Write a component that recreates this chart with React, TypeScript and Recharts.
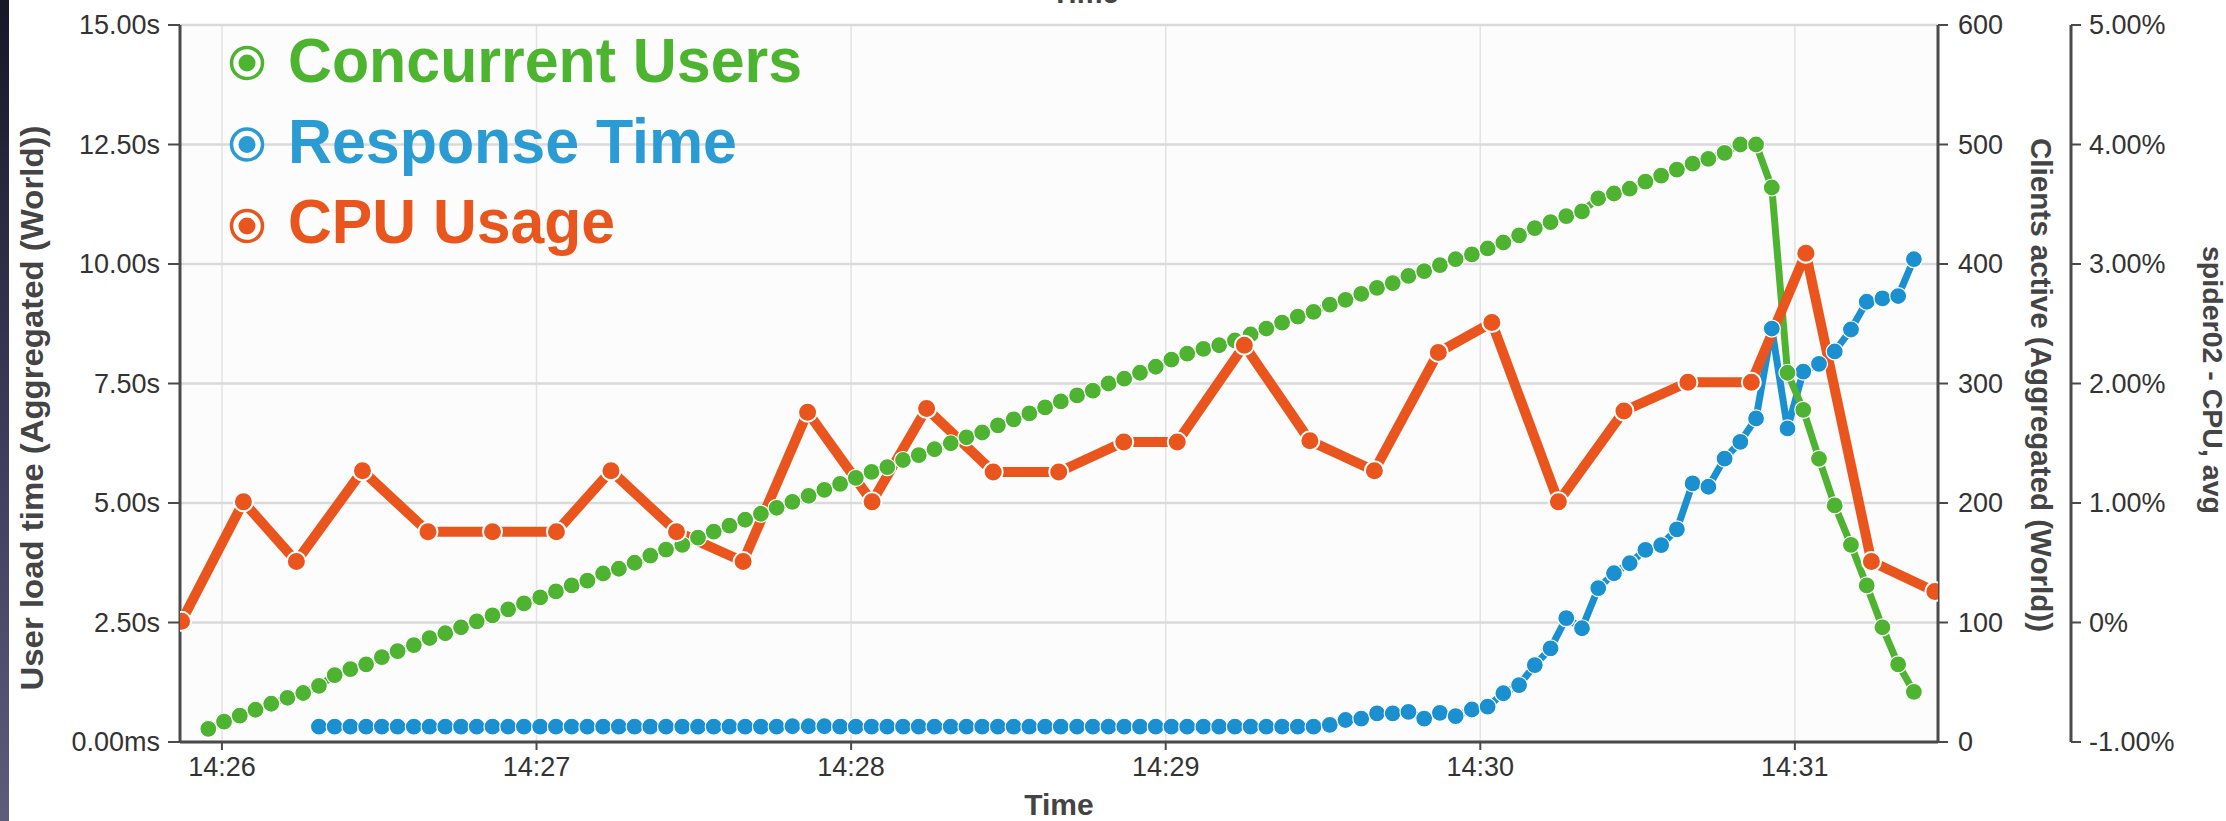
import React from "react";
import { LineChart, Line, XAxis, YAxis, CartesianGrid, Legend } from "recharts";

const FONT = "'Liberation Sans', Arial, Helvetica, sans-serif";
const GREEN = "#4fb332";
const BLUE = "#1a90d0";
const ORANGE = "#e9551d";

// seconds after 14:26:00, one sample every ~3 s (clients + response time)
const sampleSeconds = [
  -2.6, 0.4, 3.4, 6.4, 9.4, 12.5, 15.5, 18.5, 21.5, 24.5,
  27.5, 30.5, 33.5, 36.6, 39.6, 42.6, 45.6, 48.6, 51.6, 54.6,
  57.6, 60.7, 63.7, 66.7, 69.7, 72.7, 75.7, 78.7, 81.7, 84.7,
  87.8, 90.8, 93.8, 96.8, 99.8, 102.8, 105.8, 108.8, 111.9, 114.9,
  117.9, 120.9, 123.9, 126.9, 129.9, 132.9, 135.9, 139.0, 142.0, 145.0,
  148.0, 151.0, 154.0, 157.0, 160.0, 163.1, 166.1, 169.1, 172.1, 175.1,
  178.1, 181.1, 184.1, 187.2, 190.2, 193.2, 196.2, 199.2, 202.2, 205.2,
  208.2, 211.3, 214.3, 217.3, 220.3, 223.3, 226.3, 229.3, 232.3, 235.3,
  238.4, 241.4, 244.4, 247.4, 250.4, 253.4, 256.4, 259.4, 262.5, 265.5,
  268.5, 271.5, 274.5, 277.5, 280.5, 283.5, 286.6, 289.6, 292.6, 295.6,
  298.6, 301.6, 304.6, 307.6, 310.7, 313.7, 316.7, 319.7, 322.7,
];

// Clients active (Aggregated (World))
const concurrentUsers = [
  11, 17, 22, 27, 32, 37, 41, 47, 56, 61,
  65, 71, 76, 81, 87, 91, 96, 101, 106, 111,
  116, 121, 126, 131, 135, 141, 145, 150, 156, 161,
  165, 171, 176, 181, 186, 191, 196, 201, 206, 211,
  216, 221, 226, 230, 236, 240, 245, 250, 255, 259,
  265, 270, 275, 280, 285, 290, 294, 300, 304, 309,
  314, 320, 325, 329, 332, 336, 341, 346, 351, 356,
  360, 366, 370, 375, 380, 384, 390, 394, 399, 404,
  408, 413, 418, 424, 430, 435, 440, 444, 455, 459,
  463, 469, 474, 479, 484, 488, 493, 500, 500, 464,
  309, 278, 237, 198, 165, 131, 96, 65, 42,
];

// User load time (Aggregated (World)), seconds
const responseTime = [
  null, null, null, null, null, null, null,
  0.32, 0.32, 0.32, 0.32, 0.32, 0.32, 0.32, 0.32,
  0.32, 0.32, 0.32, 0.32, 0.32, 0.32, 0.32, 0.32,
  0.32, 0.32, 0.32, 0.32, 0.32, 0.32, 0.32, 0.32,
  0.32, 0.32, 0.32, 0.32, 0.32, 0.32, 0.33, 0.33,
  0.33, 0.32, 0.32, 0.32, 0.32, 0.32, 0.32, 0.32,
  0.32, 0.32, 0.32, 0.32, 0.32, 0.32, 0.32, 0.32,
  0.32, 0.32, 0.32, 0.32, 0.32, 0.32, 0.32, 0.32,
  0.32, 0.32, 0.32, 0.32, 0.32, 0.32, 0.32, 0.32,
  0.36, 0.46, 0.49, 0.6, 0.6, 0.63, 0.49, 0.61, 0.54, 0.68,
  0.74, 1.02, 1.19, 1.61, 1.96, 2.59, 2.38, 3.22, 3.53, 3.74,
  4.02, 4.12, 4.45, 5.41, 5.34, 5.93, 6.28, 6.77, 8.65, 6.56,
  7.75, 7.91, 8.17, 8.63, 9.21, 9.28, 9.33, 10.1,
];

// spider02 - CPU, avg (sampled every ~12 s)
const cpuSeconds = [
  -7.7, 4.1, 14.2, 26.8, 39.3, 51.6, 63.8, 74.2, 86.7, 99.4,
  111.7, 124.0, 134.4, 147.1, 159.6, 172.0, 182.2, 195.0, 207.5, 219.8,
  232.0, 242.2, 254.9, 267.4, 279.6, 291.7, 302.1, 314.6, 326.7,
];
const cpuUsage = [
  0.01, 1.01, 0.51, 1.27, 0.76, 0.76, 0.76, 1.27, 0.76, 0.51,
  1.76, 1.01, 1.79, 1.26, 1.26, 1.51, 1.51, 2.32, 1.52, 1.27,
  2.26, 2.51, 1.01, 1.77, 2.01, 2.01, 3.09, 0.51, 0.26,
];

const timeTicks = [0, 60, 120, 180, 240, 300];
const timeTickLabels = ["14:26", "14:27", "14:28", "14:29", "14:30", "14:31"];
const loadTicks = [0, 2.5, 5, 7.5, 10, 12.5, 15];
const loadTickLabels = ["0.00ms", "2.50s", "5.00s", "7.50s", "10.00s", "12.50s", "15.00s"];
const clientTicks = [0, 100, 200, 300, 400, 500, 600];
const clientTickLabels = ["0", "100", "200", "300", "400", "500", "600"];
const cpuTicks = [-1, 0, 1, 2, 3, 4, 5];
const cpuTickLabels = ["-1.00%", "0%", "1.00%", "2.00%", "3.00%", "4.00%", "5.00%"];

const legendNames = ["Concurrent Users", "Response Time", "CPU Usage"];
const legendColors = ["#4cb42f", "#2a9bd3", "#e9561d"];
const legendWidths = [514, 449, 327];

const samples = sampleSeconds.map((t, i) => ({ t, users: concurrentUsers[i], resp: responseTime[i] }));
const cpuData = cpuSeconds.map((t, i) => ({ t, cpu: cpuUsage[i] }));

function makeTick(ticks: number[], labels: string[], anchor: "start" | "middle" | "end", dy: string) {
  return (props: any) => {
    const i = ticks.indexOf(props.payload.value);
    return (
      <text x={props.x} y={props.y} dy={dy} textAnchor={anchor} fill="#333" fontSize={27} fontFamily={FONT}>
        {labels[i]}
      </text>
    );
  };
}

// legend box sits at left 220 / top 10 of the chart
const renderLegend = () => (
  <svg width={720} height={270} style={{ display: "block" }}>
    {legendNames.map((name, i) => (
      <g key={name}>
        <circle cx={27} cy={53 + i * 81.5} r={15.5} fill="#fff" stroke={legendColors[i]} strokeWidth={3.5} />
        <circle cx={27} cy={53 + i * 81.5} r={8.5} fill={legendColors[i]} />
        <text
          x={68}
          y={72 + i * 80.5}
          fill={legendColors[i]}
          fontSize={63}
          fontWeight="bold"
          fontFamily={FONT}
          textLength={legendWidths[i]}
          lengthAdjust="spacingAndGlyphs"
        >
          {name}
        </text>
      </g>
    ))}
  </svg>
);

const axisLine = { stroke: "#4a4a4a", strokeWidth: 3 };
const tickLine = { stroke: "#4a4a4a", strokeWidth: 2 };

export default function App() {
  return (
    <div style={{ position: "absolute", left: 0, top: 0, width: 2226, height: 821, background: "#fff", overflow: "hidden" }}>
      <LineChart width={2226} height={821} data={samples} margin={{ top: 25, right: 55, bottom: 39, left: 80 }}>
        <CartesianGrid horizontal={false} stroke="#e3e3e3" strokeWidth={1.5} fill="#fcfcfc" />
        <CartesianGrid vertical={false} stroke="#dadada" strokeWidth={2.5} />
        <XAxis
          dataKey="t"
          type="number"
          domain={[-8, 327.3]}
          ticks={timeTicks}
          interval={0}
          allowDataOverflow
          height={40}
          tickSize={8}
          tickMargin={2}
          axisLine={axisLine}
          tickLine={tickLine}
          tick={makeTick(timeTicks, timeTickLabels, "middle", "0.9em")}
        />
        <YAxis
          domain={[0, 15]}
          ticks={loadTicks}
          interval={0}
          width={100}
          tickSize={12}
          tickMargin={8}
          axisLine={axisLine}
          tickLine={tickLine}
          tick={makeTick(loadTicks, loadTickLabels, "end", "0.35em")}
        />
        <YAxis
          yAxisId="clients"
          orientation="right"
          domain={[0, 600]}
          ticks={clientTicks}
          interval={0}
          width={133}
          tickSize={10}
          tickMargin={10}
          axisLine={axisLine}
          tickLine={tickLine}
          tick={makeTick(clientTicks, clientTickLabels, "start", "0.35em")}
        />
        <YAxis
          yAxisId="cpu"
          orientation="right"
          domain={[-1, 5]}
          ticks={cpuTicks}
          interval={0}
          width={100}
          tickSize={10}
          tickMargin={8}
          axisLine={axisLine}
          tickLine={tickLine}
          tick={makeTick(cpuTicks, cpuTickLabels, "start", "0.35em")}
        />
        <Legend
          layout="vertical"
          align="center"
          verticalAlign="middle"
          content={renderLegend}
          wrapperStyle={{ left: 220, top: 10, width: 720, height: 270 }}
        />
        <Line
          name="Response Time"
          dataKey="resp"
          stroke={BLUE}
          strokeWidth={7}
          strokeLinejoin="round"
          dot={{ r: 8.5, fill: BLUE, stroke: "#fff", strokeWidth: 1.2 }}
          activeDot={false}
          isAnimationActive={false}
        />
        <Line
          name="Concurrent Users"
          yAxisId="clients"
          dataKey="users"
          stroke={GREEN}
          strokeWidth={7}
          strokeLinejoin="round"
          dot={{ r: 8.5, fill: GREEN, stroke: "#fff", strokeWidth: 1.2 }}
          activeDot={false}
          isAnimationActive={false}
        />
        <Line
          name="CPU Usage"
          yAxisId="cpu"
          data={cpuData}
          dataKey="cpu"
          stroke={ORANGE}
          strokeWidth={10}
          strokeLinejoin="round"
          dot={{ r: 9.5, fill: ORANGE, stroke: "#fff", strokeWidth: 2 }}
          activeDot={false}
          isAnimationActive={false}
        />
        <text x={1085} y={3} textAnchor="middle" fill="#444" fontSize={29} fontWeight="bold" fontFamily={FONT}>
          Time
        </text>
        <text x={1059} y={815} textAnchor="middle" fill="#444" fontSize={30} fontWeight="bold" fontFamily={FONT}>
          Time
        </text>
        <text
          x={43}
          y={408}
          transform="rotate(-90, 43, 408)"
          textAnchor="middle"
          fill="#444"
          fontSize={31}
          fontWeight="bold"
          fontFamily={FONT}
          textLength={565}
          lengthAdjust="spacingAndGlyphs"
        >
          User load time (Aggregated (World))
        </text>
        <text
          x={2031}
          y={385}
          transform="rotate(90, 2031, 385)"
          textAnchor="middle"
          fill="#444"
          fontSize={30}
          fontWeight="bold"
          fontFamily={FONT}
          textLength={494}
          lengthAdjust="spacingAndGlyphs"
        >
          Clients active (Aggregated (World))
        </text>
        <text
          x={2203}
          y={380}
          transform="rotate(90, 2203, 380)"
          textAnchor="middle"
          fill="#444"
          fontSize={27}
          fontWeight="bold"
          fontFamily={FONT}
          textLength={268}
          lengthAdjust="spacingAndGlyphs"
        >
          spider02 - CPU, avg
        </text>
      </LineChart>
      <div
        style={{
          position: "absolute",
          left: 0,
          top: 0,
          width: 9,
          height: 821,
          background: "linear-gradient(#171728, #3a3a58 50%, #5d5c7a)",
        }}
      />
    </div>
  );
}
